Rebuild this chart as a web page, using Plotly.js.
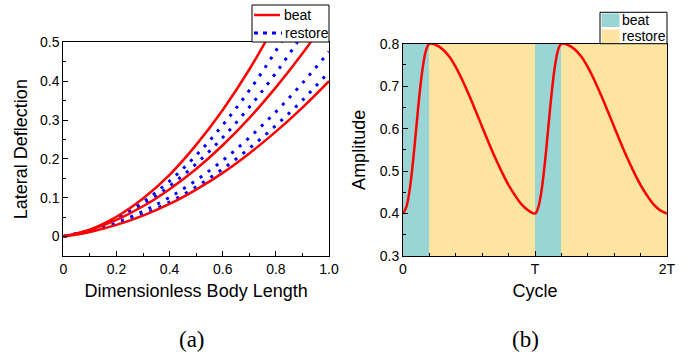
<!DOCTYPE html>
<html>
<head>
<meta charset="utf-8">
<script src="https://cdn.plot.ly/plotly-3.0.1.min.js"></script>
<style>html,body{margin:0;padding:0;background:#fff;}#chart{width:694px;height:358px;}</style>
</head>
<body>
<div id="chart"></div>
<script>
// ---------- Panel (a): lateral deflection along the body ----------
const bodyLength = [0, 0.1, 0.2, 0.3, 0.4, 0.5, 0.6, 0.7, 0.8, 0.9, 1.0];
const beatTop    = [0, 0.018, 0.051, 0.098, 0.159, 0.236, 0.326, 0.430, 0.550, 0.683, 0.830];
const beatMid    = [0, 0.017, 0.043, 0.078, 0.122, 0.174, 0.235, 0.305, 0.384, 0.471, 0.568];
const beatBottom = [0, 0.012, 0.030, 0.054, 0.084, 0.121, 0.164, 0.214, 0.270, 0.332, 0.400];
const restore1   = [0, 0.017, 0.047, 0.089, 0.143, 0.209, 0.287, 0.376, 0.478, 0.592, 0.718];
const restore2   = [0, 0.017, 0.045, 0.082, 0.130, 0.187, 0.255, 0.333, 0.421, 0.520, 0.628];
const restore3   = [0, 0.014, 0.036, 0.065, 0.101, 0.145, 0.196, 0.255, 0.321, 0.395, 0.476];
const restore4   = [0, 0.013, 0.032, 0.057, 0.089, 0.128, 0.174, 0.227, 0.286, 0.351, 0.424];

const aXTickVals = [0, 0.2, 0.4, 0.6, 0.8, 1.0];
const aXTickText = ['0', '0.2', '0.4', '0.6', '0.8', '1.0'];
const aXMinor    = [0.1, 0.3, 0.5, 0.7, 0.9];
const aYTickVals = [0, 0.1, 0.2, 0.3, 0.4, 0.5];
const aYTickText = ['0', '0.1', '0.2', '0.3', '0.4', '0.5'];
const aYMinor    = [-0.05, 0.05, 0.15, 0.25, 0.35, 0.45];

// ---------- Panel (b): amplitude over two cycles ----------
const cycleT = [
  0, 0.025, 0.05, 0.075, 0.1, 0.125, 0.15, 0.175, 0.2, 0.25, 0.3, 0.35, 0.4, 0.45, 0.5,
  0.55, 0.6, 0.65, 0.7, 0.75, 0.8, 0.85, 0.9, 0.95,
  1.0, 1.025, 1.05, 1.075, 1.1, 1.125, 1.15, 1.175, 1.2, 1.25, 1.3, 1.35, 1.4, 1.45, 1.5,
  1.55, 1.6, 1.65, 1.7, 1.75, 1.8, 1.85, 1.9, 1.95, 2.0];
const amplitude = [
  0.400, 0.415, 0.455, 0.520, 0.600, 0.680, 0.745, 0.785, 0.800, 0.797, 0.787, 0.770, 0.745, 0.714, 0.679,
  0.642, 0.604, 0.566, 0.530, 0.497, 0.467, 0.442, 0.421, 0.407,
  0.400, 0.415, 0.455, 0.520, 0.600, 0.680, 0.745, 0.785, 0.800, 0.797, 0.787, 0.770, 0.745, 0.714, 0.679,
  0.642, 0.604, 0.566, 0.530, 0.497, 0.467, 0.442, 0.421, 0.407, 0.400];

const beatStart = [0, 1.0], beatEnd = [0.2, 1.2];
const restoreStart = [0.2, 1.2], restoreEnd = [1.0, 2.0];
const bandLow = 0.3, bandHigh = 0.8;

const bXTickVals = [0, 1, 2];
const bXTickText = ['0', 'T', '2T'];
const bXMinor    = [0.2, 0.4, 0.6, 0.8, 1.2, 1.4, 1.6, 1.8];
const bYTickVals = [0.3, 0.4, 0.5, 0.6, 0.7, 0.8];
const bYTickText = ['0.3', '0.4', '0.5', '0.6', '0.7', '0.8'];
const bYMinor    = [0.35, 0.45, 0.55, 0.65, 0.75];

const legendALabels = ['beat', 'restore'];
const legendBLabels = ['beat', 'restore'];

const RED = '#ff0000', BLUE = '#0000ff', TEAL = '#9ad5d5', SAND = '#fde4a0';
const DOTS = '3px,7px';
const W = 694, H = 358;

function redLine(y) {
  return {x: bodyLength, y: y, type: 'scatter', mode: 'lines', name: 'beat', showlegend: false,
    line: {color: RED, width: 2.5, shape: 'spline'}, xaxis: 'x', yaxis: 'y', hoverinfo: 'skip'};
}
function blueLine(y) {
  return {x: bodyLength, y: y, type: 'scatter', mode: 'lines', name: 'restore', showlegend: false,
    line: {color: BLUE, width: 3, dash: DOTS, shape: 'spline'}, xaxis: 'x', yaxis: 'y', hoverinfo: 'skip'};
}
function band(starts, ends, name, color) {
  return {type: 'bar', name: name, showlegend: false, xaxis: 'x2', yaxis: 'y2',
    x: starts.map((s, i) => (s + ends[i]) / 2),
    width: starts.map((s, i) => ends[i] - s),
    y: starts.map(() => bandHigh - bandLow), base: bandLow,
    marker: {color: color, line: {width: 0}}, hoverinfo: 'skip'};
}

const traces = [
  blueLine(restore1), blueLine(restore2), blueLine(restore3), blueLine(restore4),
  redLine(beatTop), redLine(beatMid), redLine(beatBottom),
  band(beatStart, beatEnd, 'beat', TEAL),
  band(restoreStart, restoreEnd, 'restore', SAND),
  {x: cycleT, y: amplitude, type: 'scatter', mode: 'lines', showlegend: false, xaxis: 'x2', yaxis: 'y2',
   line: {color: RED, width: 2.5, shape: 'spline', smoothing: 1}, hoverinfo: 'skip'}
];

// legend boxes drawn in paper space (pixel helpers)
const px = v => v / W, py = v => 1 - v / H;
const legendFont = {size: 14, color: '#000'};
const shapes = [
  // panel (a) legend
  {type: 'rect', xref: 'paper', yref: 'paper', x0: px(252), x1: px(329), y0: py(42), y1: py(5),
   fillcolor: '#fff', line: {color: '#000', width: 1}},
  {type: 'line', xref: 'paper', yref: 'paper', x0: px(254), x1: px(280), y0: py(15), y1: py(15),
   line: {color: RED, width: 2.5}},
  {type: 'line', xref: 'paper', yref: 'paper', x0: px(254), x1: px(282), y0: py(33), y1: py(33),
   line: {color: BLUE, width: 3, dash: '4px,5px'}},
  // panel (b) legend
  {type: 'rect', xref: 'paper', yref: 'paper', x0: px(600), x1: px(667), y0: py(43.7), y1: py(12.3),
   fillcolor: '#fff', line: {color: '#000', width: 1}},
  {type: 'rect', xref: 'paper', yref: 'paper', x0: px(601.5), x1: px(619.5), y0: py(27), y1: py(13.5),
   fillcolor: TEAL, line: {width: 0}},
  {type: 'rect', xref: 'paper', yref: 'paper', x0: px(601.5), x1: px(619.5), y0: py(43), y1: py(29.5),
   fillcolor: SAND, line: {width: 0}}
];

const serif = {family: '"Liberation Serif", "Times New Roman", serif', size: 23, color: '#000'};
const annotations = [
  {text: legendALabels[0], xref: 'paper', yref: 'paper', x: px(282), y: py(15), xanchor: 'left', yanchor: 'middle', showarrow: false, font: legendFont},
  {text: legendALabels[1], xref: 'paper', yref: 'paper', x: px(282.5), y: py(33), xanchor: 'left', yanchor: 'middle', showarrow: false, font: legendFont},
  {text: legendBLabels[0], xref: 'paper', yref: 'paper', x: px(620), y: py(20), xanchor: 'left', yanchor: 'middle', showarrow: false, font: legendFont},
  {text: legendBLabels[1], xref: 'paper', yref: 'paper', x: px(620), y: py(36), xanchor: 'left', yanchor: 'middle', showarrow: false, font: legendFont},
  {text: '(a)', xref: 'paper', yref: 'paper', x: px(192), y: py(339), xanchor: 'center', yanchor: 'middle', showarrow: false, font: serif},
  {text: '(b)', xref: 'paper', yref: 'paper', x: px(525), y: py(339), xanchor: 'center', yanchor: 'middle', showarrow: false, font: serif}
];

const axisCommon = {showline: true, mirror: true, linecolor: '#000', linewidth: 1, showgrid: false,
  zeroline: false, ticks: 'inside', ticklen: 5, tickwidth: 1, tickcolor: '#000', tickmode: 'array',
  tickfont: {size: 14, color: '#000'}, fixedrange: true};
const titleFont = {size: 18, color: '#000'};

const layout = {
  width: W, height: H, margin: {l: 0, r: 0, t: 0, b: 0},
  paper_bgcolor: '#fff', plot_bgcolor: '#fff', showlegend: false,
  font: {family: '"Liberation Sans", Arial, sans-serif', size: 14, color: '#000'},
  barmode: 'overlay', bargap: 0,
  xaxis: Object.assign({}, axisCommon, {domain: [px(63.3), px(329)], range: [0, 1], anchor: 'y',
    tickvals: aXTickVals, ticktext: aXTickText,
    minor: {tickmode: 'array', tickvals: aXMinor, ticks: 'inside', ticklen: 3, tickcolor: '#000'},
    title: {text: 'Dimensionless Body Length', font: titleFont, standoff: 8}}),
  yaxis: Object.assign({}, axisCommon, {domain: [py(256), py(42.3)], range: [-0.05, 0.5], anchor: 'x',
    tickvals: aYTickVals, ticktext: aYTickText,
    minor: {tickmode: 'array', tickvals: aYMinor, ticks: 'inside', ticklen: 3, tickcolor: '#000'},
    title: {text: 'Lateral Deflection', font: titleFont, standoff: 7}}),
  xaxis2: Object.assign({}, axisCommon, {domain: [px(403), px(667)], range: [0, 2], anchor: 'y2',
    tickvals: bXTickVals, ticktext: bXTickText,
    minor: {tickmode: 'array', tickvals: bXMinor, ticks: 'inside', ticklen: 3, tickcolor: '#000'},
    title: {text: 'Cycle', font: titleFont, standoff: 8}}),
  yaxis2: Object.assign({}, axisCommon, {domain: [py(256), py(43.7)], range: [0.3, 0.8], anchor: 'x2',
    tickvals: bYTickVals, ticktext: bYTickText,
    minor: {tickmode: 'array', tickvals: bYMinor, ticks: 'inside', ticklen: 3, tickcolor: '#000'},
    title: {text: 'Amplitude', font: titleFont, standoff: 9}}),
  shapes: shapes,
  annotations: annotations
};

Plotly.newPlot('chart', traces, layout, {staticPlot: true, displayModeBar: false});
</script>
</body>
</html>
